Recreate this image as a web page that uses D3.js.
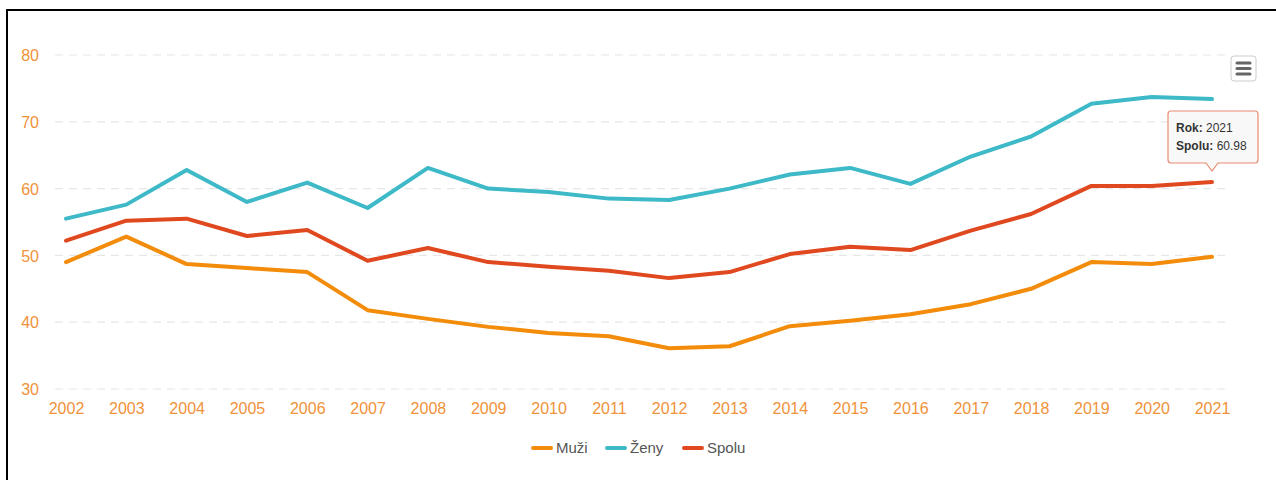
<!DOCTYPE html>
<html>
<head>
<meta charset="utf-8">
<script src="https://cdn.jsdelivr.net/npm/d3@7"></script>
<style>
	body { margin: 0; background: #fff; }
	#chart { position: relative; width: 1276px; height: 480px; overflow: hidden; }
	text { font-family: "Liberation Sans", Arial, sans-serif; }
</style>
</head>
<body>
<div id="chart"></div>
<script>
var years = [2002, 2003, 2004, 2005, 2006, 2007, 2008, 2009, 2010, 2011,
	2012, 2013, 2014, 2015, 2016, 2017, 2018, 2019, 2020, 2021];

var muzi = [49.0, 52.8, 48.7, 48.1, 47.5, 41.8, 40.5, 39.3, 38.4, 37.9,
	36.1, 36.4, 39.4, 40.2, 41.2, 42.7, 45.0, 49.0, 48.7, 49.8];
var zeny = [55.5, 57.6, 62.8, 58.0, 60.9, 57.1, 63.1, 60.0, 59.5, 58.5,
	58.3, 60.0, 62.1, 63.1, 60.7, 64.8, 67.8, 72.7, 73.7, 73.4];
var spolu = [52.2, 55.2, 55.5, 52.9, 53.8, 49.2, 51.1, 49.0, 48.3, 47.7,
	46.6, 47.5, 50.2, 51.3, 50.8, 53.7, 56.2, 60.4, 60.4, 60.98];

var seriesNames = ["Muži", "Ženy", "Spolu"];
var seriesColors = ["#f28c0a", "#3db9c7", "#e0491f"];
var yTicks = [30, 40, 50, 60, 70, 80];

var svgWidth = 1276;
var svgHeight = 480;

var svg = d3.select("#chart")
	.append("svg")
	.attr("width", svgWidth)
	.attr("height", svgHeight);

// outer frame (only top and left edges are in view)
svg.append("rect")
	.attr("x", 7)
	.attr("y", 10)
	.attr("width", 1300)
	.attr("height", 500)
	.attr("fill", "none")
	.attr("stroke", "#000")
	.attr("stroke-width", 2);

var x = d3.scalePoint()
	.domain(years)
	.range([66, 1212]);

var y = d3.scaleLinear()
	.domain([30, 80])
	.range([389, 55]);

// gridlines
svg.append("g")
	.selectAll("line")
	.data(yTicks)
	.enter()
	.append("line")
	.attr("x1", 55)
	.attr("x2", 1225)
	.attr("y1", d => y(d))
	.attr("y2", d => y(d))
	.attr("stroke", "#e6e6e6")
	.attr("stroke-width", 1.2)
	.attr("stroke-dasharray", "8,6");

var leftAxis = d3.axisLeft(y).tickValues(yTicks).tickSize(0).tickPadding(0);
var yAxis = svg.append("g")
	.attr("transform", "translate(39, 0)")
	.call(leftAxis);
yAxis.select(".domain").remove();
yAxis.selectAll("text")
	.attr("fill", "#f0923a")
	.attr("font-size", "16px")
	.attr("dy", "0.35em")
	.style("font-family", "'Liberation Sans', Arial, sans-serif");

var bottomAxis = d3.axisBottom(x).tickSize(0).tickPadding(0);
var xAxis = svg.append("g")
	.attr("transform", "translate(0, 403)")
	.call(bottomAxis);
xAxis.select(".domain").remove();
xAxis.selectAll("text")
	.attr("fill", "#f0923a")
	.attr("font-size", "16px")
	.style("font-family", "'Liberation Sans', Arial, sans-serif");

var line = d3.line()
	.x((d, i) => x(years[i]))
	.y(d => y(d));

var allSeries = [muzi, zeny, spolu];

svg.append("g")
	.selectAll("path")
	.data(allSeries)
	.enter()
	.append("path")
	.attr("d", d => line(d))
	.attr("fill", "none")
	.attr("stroke", (d, i) => seriesColors[i])
	.attr("stroke-width", 4)
	.attr("stroke-linejoin", "round")
	.attr("stroke-linecap", "round");

// legend
var legendX = [532, 606, 683];
var legend = svg.append("g")
	.selectAll("g")
	.data(seriesNames)
	.enter()
	.append("g")
	.attr("transform", (d, i) => `translate(${legendX[i]}, 448)`);

legend.append("line")
	.attr("x1", 1)
	.attr("x2", 19)
	.attr("stroke", (d, i) => seriesColors[i])
	.attr("stroke-width", 4)
	.attr("stroke-linecap", "round");

legend.append("text")
	.attr("x", 24)
	.attr("dy", "0.35em")
	.attr("font-size", "15px")
	.attr("fill", "#555")
	.text(d => d);

// tooltip for the last Spolu point
var last = years.length - 1;
var tx = x(years[last]);
var ty = y(spolu[last]);
var tip = svg.append("g");
var bx = 1168, by = 111, bw = 90, bh = 52;
tip.append("path")
	.attr("d", `M${bx + 3},${by} H${bx + bw - 3} Q${bx + bw},${by} ${bx + bw},${by + 3}
		V${by + bh - 3} Q${bx + bw},${by + bh} ${bx + bw - 3},${by + bh}
		H${tx + 6} L${tx},${ty - 11} L${tx - 6},${by + bh}
		H${bx + 3} Q${bx},${by + bh} ${bx},${by + bh - 3}
		V${by + 3} Q${bx},${by} ${bx + 3},${by} Z`)
	.attr("fill", "rgba(247,247,247,0.9)")
	.attr("stroke", "#e98a70")
	.attr("stroke-width", 1.2);

var t1 = tip.append("text")
	.attr("x", bx + 8)
	.attr("y", by + 21)
	.attr("font-size", "12px")
	.attr("fill", "#333");
t1.append("tspan").attr("font-weight", "bold").text("Rok: ");
t1.append("tspan").text(years[last]);

var t2 = tip.append("text")
	.attr("x", bx + 8)
	.attr("y", by + 39)
	.attr("font-size", "12px")
	.attr("fill", "#333");
t2.append("tspan").attr("font-weight", "bold").text("Spolu: ");
t2.append("tspan").text(spolu[last].toFixed(2));

// menu button
var menu = svg.append("g").attr("transform", "translate(1231, 56)");
menu.append("rect")
	.attr("width", 25)
	.attr("height", 25)
	.attr("rx", 3)
	.attr("fill", "#fff")
	.attr("stroke", "#ccc")
	.attr("stroke-width", 1);
menu.selectAll("line.bar")
	.data([7, 12.5, 18])
	.enter()
	.append("line")
	.attr("x1", 6)
	.attr("x2", 19)
	.attr("y1", d => d)
	.attr("y2", d => d)
	.attr("stroke", "#666")
	.attr("stroke-width", 3)
	.attr("stroke-linecap", "round");
</script>
</body>
</html>
